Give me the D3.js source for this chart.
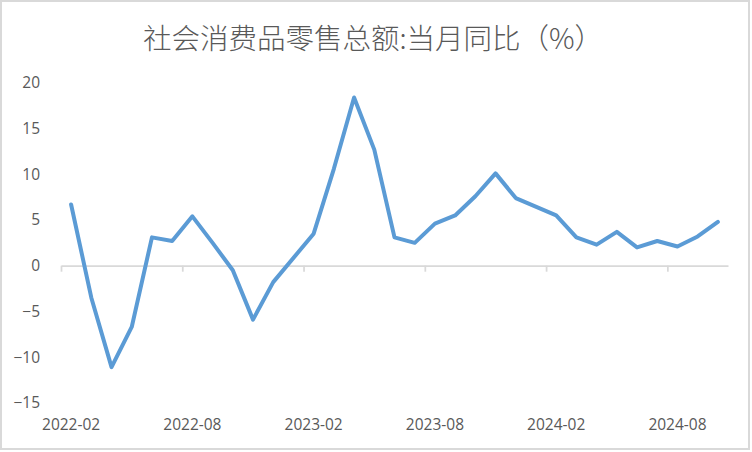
<!DOCTYPE html>
<html>
<head>
<meta charset="utf-8">
<script src="https://cdn.jsdelivr.net/npm/d3@7"></script>
<style>
  html, body { margin: 0; padding: 0; background: #ffffff; }
  svg { display: block; }
</style>
</head>
<body>
<svg id="chart" width="752" height="452"></svg>
<script>
// ---- data ----
const categories = [
  "2022-02","2022-03","2022-04","2022-05","2022-06","2022-07","2022-08","2022-09","2022-10","2022-11","2022-12",
  "2023-01","2023-02","2023-03","2023-04","2023-05","2023-06","2023-07","2023-08","2023-09","2023-10","2023-11","2023-12",
  "2024-01","2024-02","2024-03","2024-04","2024-05","2024-06","2024-07","2024-08","2024-09","2024-10"
];
const values = [
  6.7, -3.5, -11.1, -6.7, 3.1, 2.7, 5.4, 2.5, -0.5, -5.9, -1.8,
  null, 3.5, 10.6, 18.4, 12.7, 3.1, 2.5, 4.6, 5.5, 7.6, 10.1, 7.4,
  null, 5.5, 3.1, 2.3, 3.7, 2.0, 2.7, 2.1, 3.2, 4.8
];
const xTickLabels = ["2022-02","2022-08","2023-02","2023-08","2024-02","2024-08"];
const yTicks = [-15, -10, -5, 0, 5, 10, 15, 20];
const title = "社会消费品零售总额:当月同比（%）";

// ---- layout ----
const svg = d3.select("#chart");
const plotLeft = 61, plotRight = 728;
const textColor = "#595959";
const axisColor = "#d9d9d9";
const tickFont = "'Open Sans', 'Noto Sans', sans-serif";

// chart border
svg.append("rect")
  .attr("x", 1).attr("y", 1).attr("width", 748).attr("height", 448)
  .attr("fill", "#ffffff").attr("stroke", axisColor).attr("stroke-width", 2);

// title
svg.append("text")
  .attr("x", 373).attr("y", 48.5)
  .attr("text-anchor", "middle")
  .attr("font-family", "'Noto Sans CJK SC', sans-serif")
  .attr("font-weight", 300)
  .attr("font-size", 28.5)
  .attr("fill", textColor)
  .text(title);

// scales
const x = d3.scaleBand().domain(categories).range([plotLeft, plotRight]).padding(0);
const xIdx = d3.scaleLinear().domain([0, categories.length]).range([plotLeft, plotRight]);
const y = d3.scaleLinear().domain([-15, 20]).range([402.8, 82.9]);

// y axis labels
const yAxis = svg.append("g")
  .attr("transform", "translate(40,0)")
  .call(d3.axisLeft(y).tickValues(yTicks).tickSize(0).tickPadding(0).tickFormat(d3.format("d")));
yAxis.select(".domain").remove();
yAxis.selectAll("text")
  .attr("font-family", tickFont).attr("font-size", 15.5).attr("fill", textColor);

// x axis line with tick marks at category boundaries
const tickIdx = xTickLabels.map(l => categories.indexOf(l));
const xLine = svg.append("g")
  .attr("transform", `translate(0,${y(0)})`)
  .call(d3.axisBottom(xIdx).tickValues(tickIdx).tickSize(6).tickSizeOuter(0).tickFormat(""));
xLine.select(".domain").attr("stroke", axisColor).attr("stroke-width", 1.75);
xLine.selectAll(".tick line").attr("stroke", axisColor).attr("stroke-width", 1.75);

// x labels (low position)
const xLab = svg.append("g")
  .attr("transform", "translate(0,418)")
  .call(d3.axisBottom(x).tickValues(xTickLabels).tickSize(0).tickPadding(0));
xLab.select(".domain").remove();
xLab.selectAll("text")
  .attr("font-family", tickFont).attr("font-size", 15.5).attr("fill", textColor)
  .attr("dy", "0.75em");

// line
const line = d3.line()
  .defined(d => d.v !== null)
  .x(d => x(d.c) + x.bandwidth() / 2)
  .y(d => y(d.v));
const pts = categories.map((c, i) => ({ c, v: values[i] })).filter(d => d.v !== null);
svg.append("path")
  .datum(pts)
  .attr("fill", "none")
  .attr("stroke", "#5b9bd5")
  .attr("stroke-width", 4)
  .attr("stroke-linejoin", "round")
  .attr("stroke-linecap", "round")
  .attr("d", line);
</script>
</body>
</html>
